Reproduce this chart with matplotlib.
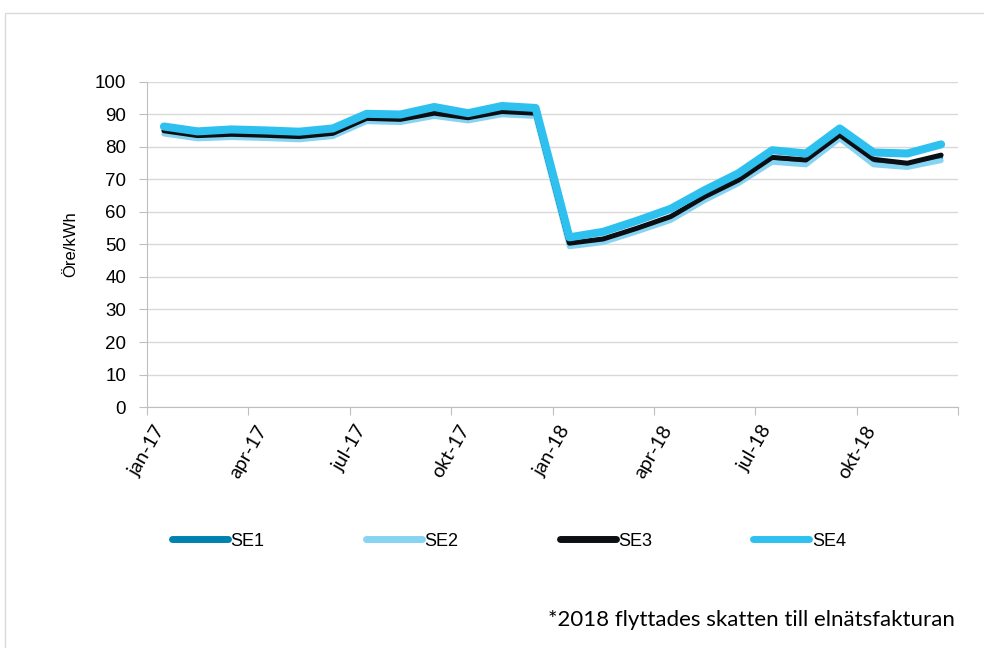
import numpy as np
import matplotlib.pyplot as plt
from matplotlib.lines import Line2D
from matplotlib.patches import Rectangle

# Monthly values, jan-17 .. dec-18 (öre/kWh)
months = ['jan-17', 'feb-17', 'mar-17', 'apr-17', 'maj-17', 'jun-17',
          'jul-17', 'aug-17', 'sep-17', 'okt-17', 'nov-17', 'dec-17',
          'jan-18', 'feb-18', 'mar-18', 'apr-18', 'maj-18', 'jun-18',
          'jul-18', 'aug-18', 'sep-18', 'okt-18', 'nov-18', 'dec-18']
se1 = [84.2, 82.7, 83.1, 82.8, 82.4, 83.4, 88.0, 87.7, 89.6, 88.2, 90.1, 89.6,
       49.6, 50.9, 54.2, 57.8, 63.9, 69.0, 76.0, 75.2, 82.9, 75.4, 74.2, 76.7]
se2 = [84.0, 82.5, 82.9, 82.6, 82.2, 83.2, 87.8, 87.5, 89.4, 88.0, 89.9, 89.4,
       49.3, 50.6, 53.9, 57.4, 63.5, 68.7, 75.3, 74.5, 82.5, 74.5, 73.7, 75.8]
se3 = [85.0, 83.5, 83.9, 83.6, 83.2, 84.2, 88.8, 88.5, 90.4, 89.0, 90.9, 90.4,
       50.4, 51.7, 55.0, 58.6, 64.7, 69.8, 76.8, 76.0, 83.7, 76.2, 75.0, 77.5]
se4 = [86.3, 84.8, 85.4, 85.1, 84.7, 85.7, 90.2, 90.0, 92.3, 90.4, 92.6, 92.0,
       52.2, 53.9, 57.3, 61.0, 66.7, 71.9, 79.0, 78.0, 85.7, 78.3, 78.0, 80.8]

series = {'SE1': se1, 'SE2': se2, 'SE3': se3, 'SE4': se4}
colors = {'SE1': '#0082B0', 'SE2': '#87D4F2', 'SE3': '#0B0F14', 'SE4': '#2EC1EF'}
widths = {'SE1': 3.0, 'SE2': 3.6, 'SE3': 3.6, 'SE4': 5.8}

plt.rcParams['font.family'] = ['Liberation Sans', 'DejaVu Sans']

fig = plt.figure(figsize=(9.84, 6.48), dpi=100)
ax = fig.add_axes([0.1494, 0.3719, 0.8242, 0.5016])

# light frame around the chart area
fig.patches.append(Rectangle((5 / 984, -0.01), 1.0, 1 - 13 / 648 + 0.01,
                             transform=fig.transFigure, fill=False,
                             edgecolor='#D9D9D9', linewidth=1.0))

x = np.arange(len(months))
for name, vals in series.items():
    ax.plot(x, vals, color=colors[name], linewidth=widths[name],
            solid_capstyle='round', solid_joinstyle='round', label=name)

ax.set_xlim(-0.5, len(months) - 0.5)
ax.set_ylim(0, 100)
ax.set_yticks(np.arange(0, 101, 10))
ax.yaxis.grid(True, color='#D9D9D9', linewidth=1.0)
ax.set_axisbelow(True)

# quarter ticks sit on the category boundaries
qpos = np.arange(-0.5, len(months), 3)
ax.set_xticks(qpos)
ax.set_xticklabels([months[int(p + 0.5)] if p + 0.5 < len(months) else ''
                    for p in qpos], rotation=60, ha='center', va='top',
                   fontsize=14, family=['Lato', 'DejaVu Sans'])
ax.tick_params(axis='x', length=6, color='#BFBFBF', pad=5)
ax.tick_params(axis='y', length=6, color='#BFBFBF', labelsize=13.5, pad=9)

for s in ['top', 'right']:
    ax.spines[s].set_visible(False)
for s in ['left', 'bottom']:
    ax.spines[s].set_color('#BFBFBF')

ax.set_ylabel('Öre/kWh', fontsize=12)
ax.yaxis.set_label_coords(-0.085, 0.5)

# legend handles all drawn with the same thick rounded stroke
handles = [Line2D([], [], color=colors[n], linewidth=5.0, solid_capstyle='round')
           for n in series]
fig.legend(handles, list(series), loc='center', bbox_to_anchor=(509 / 984, 1 - 541 / 648),
           ncol=4, frameon=False, fontsize=13, handlelength=3.1, handletextpad=0.15,
           columnspacing=5.6)

fig.text(955 / 984, 1 - 620 / 648, '*2018 flyttades skatten till elnätsfakturan',
         ha='right', va='center', fontsize=16, family=['Lato', 'DejaVu Sans'])

fig.savefig('out.png', dpi=100)
